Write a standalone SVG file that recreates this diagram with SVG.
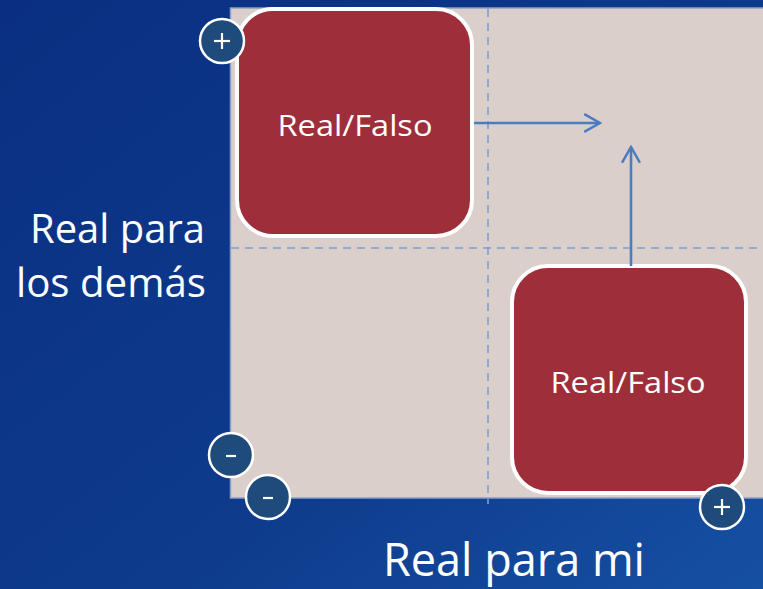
<svg xmlns="http://www.w3.org/2000/svg" width="763" height="589" viewBox="0 0 763 589">
<defs>
<linearGradient id="bg" x1="0" y1="0" x2="1" y2="1">
<stop offset="0" stop-color="#0a2f82"/>
<stop offset="0.6" stop-color="#0e3b8c"/>
<stop offset="1" stop-color="#1650a3"/>
</linearGradient>
<marker id="chev" viewBox="0 0 20 20" refX="18" refY="10" markerWidth="21" markerHeight="21" markerUnits="userSpaceOnUse" orient="auto">
<path d="M3,1.5 L18,10 L3,18.5" fill="none" stroke="#4a7cc0" stroke-width="2.4"/>
</marker>
</defs>
<style>
.lbl{font-family:"Open Sans","Liberation Sans",Arial,sans-serif;fill:#ffffff}
.node rect{fill:#9e2f3a;stroke:#ffffff;stroke-width:4}
.dash{stroke:#7f9fd0;stroke-width:1.6;stroke-dasharray:8,6;fill:none}
.conn{stroke:#4a7cc0;stroke-width:2.6;fill:none}
.badge circle{fill:#1f4a7c;stroke:#ffffff;stroke-width:2.5}
.sym{stroke:#ffffff;stroke-width:2.2}
</style>
<rect x="0" y="0" width="763" height="589" fill="url(#bg)"/>
<rect x="230.5" y="8" width="540" height="490" fill="#dbcfcc" stroke="#8aa0c8" stroke-width="1.5"/>
<line class="dash" x1="488" y1="9" x2="488" y2="504"/>
<line class="dash" x1="231" y1="248" x2="763" y2="248"/>
<text class="lbl" x="30" y="243" font-size="41" textLength="175" lengthAdjust="spacingAndGlyphs">Real para</text>
<text class="lbl" x="16" y="297" font-size="41" textLength="190" lengthAdjust="spacingAndGlyphs">los demás</text>
<text class="lbl" x="383" y="576" font-size="45" textLength="262" lengthAdjust="spacingAndGlyphs">Real para mi</text>
<g id="node1" class="node">
<rect x="237" y="9" width="235" height="227" rx="36" ry="36"/>
<text class="lbl" x="355" y="136" font-size="30" text-anchor="middle" textLength="155" lengthAdjust="spacingAndGlyphs">Real/Falso</text>
</g>
<g id="node2" class="node">
<rect x="512" y="266" width="234" height="227" rx="36" ry="36"/>
<text class="lbl" x="628" y="393" font-size="30" text-anchor="middle" textLength="155" lengthAdjust="spacingAndGlyphs">Real/Falso</text>
</g>
<g id="connectors">
<line class="conn" x1="474" y1="123" x2="600" y2="123" marker-end="url(#chev)"/>
<line class="conn" x1="631" y1="266" x2="631" y2="147" marker-end="url(#chev)"/>
</g>
<g id="badge-plus-top" class="badge">
<circle cx="222" cy="41" r="22"/>
<line class="sym" x1="214" y1="41" x2="230" y2="41"/>
<line class="sym" x1="222" y1="33" x2="222" y2="49"/>
</g>
<g id="badge-minus-left" class="badge">
<circle cx="231" cy="455" r="22"/>
<line class="sym" x1="226" y1="456" x2="236" y2="456"/>
</g>
<g id="badge-minus-bottom" class="badge">
<circle cx="268" cy="497" r="22"/>
<line class="sym" x1="263" y1="498" x2="273" y2="498"/>
</g>
<g id="badge-plus-right" class="badge">
<circle cx="722" cy="507" r="22"/>
<line class="sym" x1="714" y1="507" x2="730" y2="507"/>
<line class="sym" x1="722" y1="499" x2="722" y2="515"/>
</g>
</svg>
